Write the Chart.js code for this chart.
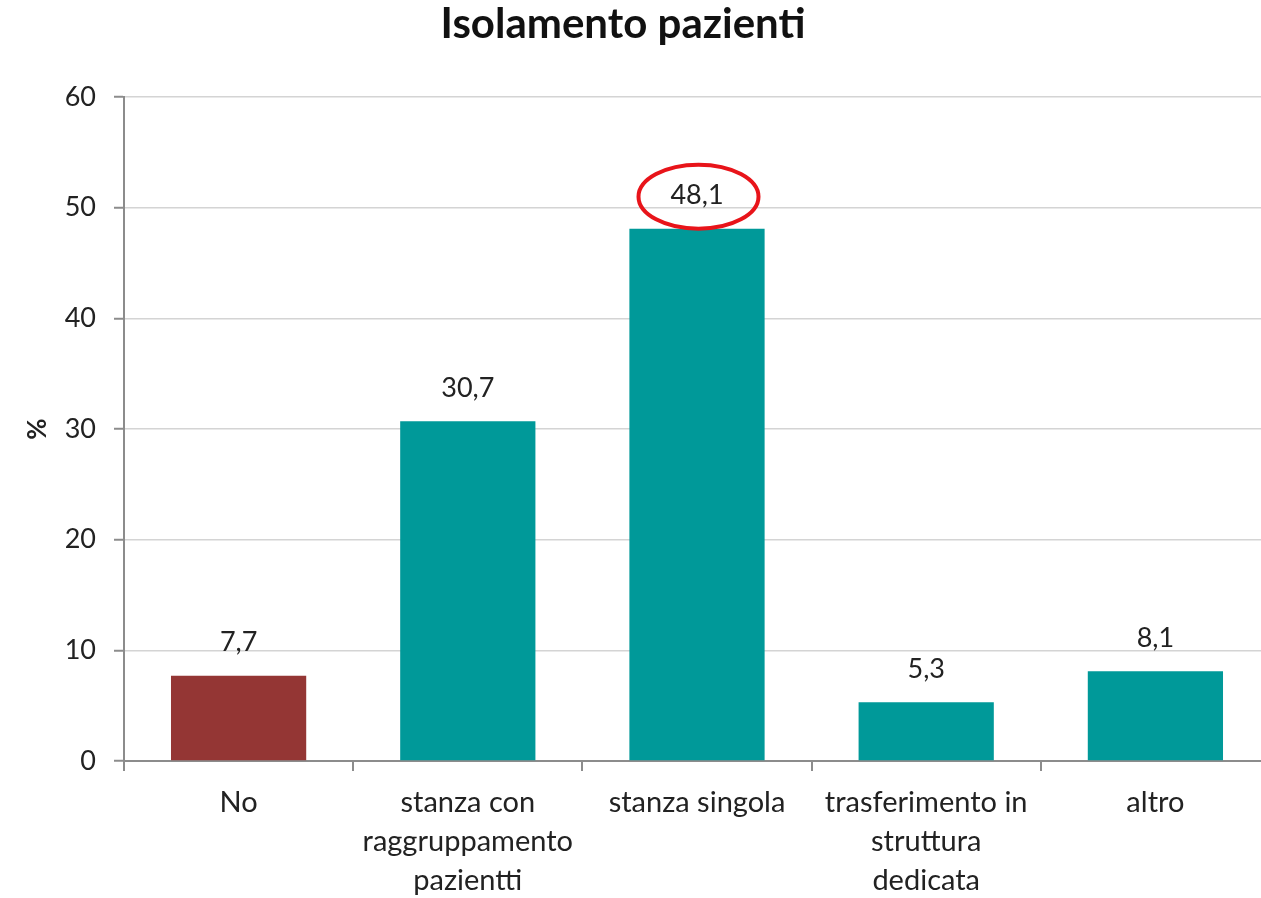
<!DOCTYPE html>
<html><head><meta charset="utf-8">
<script src="https://cdn.jsdelivr.net/npm/chart.js@4/dist/chart.umd.min.js"></script>
<style>html,body{margin:0;padding:0;background:#fff;overflow:hidden}#wrap{width:1272px;height:898px}</style>
</head><body><div id="wrap"><canvas id="c" width="1272" height="898"></canvas></div>
<script>
const chartTitle = "Isolamento pazienti";
const categories = [["No"], ["stanza con","raggruppamento","pazientti"], ["stanza singola"], ["trasferimento in","struttura","dedicata"], ["altro"]];
const values = [7.7, 30.7, 48.1, 5.3, 8.1];
const barColors = ["#943634", "#009999", "#009999", "#009999", "#009999"];
const highlightIndex = 2;
const FONT = "Lato, 'Open Sans', sans-serif";

const labelsPlugin = {
  id: 'valueLabels',
  afterDatasetsDraw(chart) {
    const ctx = chart.ctx;
    const meta = chart.getDatasetMeta(0);
    ctx.save();
    ctx.font = "27px " + FONT;
    ctx.fillStyle = "#222";
    ctx.textAlign = "center";
    ctx.textBaseline = "middle";
    meta.data.forEach((bar, i) => {
      const txt = values[i].toFixed(1).replace('.', ',');
      const y = bar.y - 33;
      ctx.fillText(txt, bar.x, y);
      if (i === highlightIndex) {
        ctx.beginPath();
        ctx.strokeStyle = "#e8141a";
        ctx.lineWidth = 4;
        ctx.ellipse(bar.x + 1.5, y + 1, 60, 32, 0, 0, Math.PI * 2);
        ctx.stroke();
      }
    });
    // title
    ctx.font = "bold 42px " + FONT;
    ctx.fillStyle = "#111";
    ctx.fillText(chartTitle, 623, 24);
    ctx.restore();
  }
};

new Chart(document.getElementById('c'), {
  type: 'bar',
  data: {
    labels: categories,
    datasets: [{ data: values, backgroundColor: barColors, borderWidth: 0, categoryPercentage: 1, barPercentage: 0.59 }]
  },
  options: {
    responsive: false,
    animation: false,
    layout: { padding: { top: 97, right: 2, left: 0, bottom: 0 } },
    plugins: {
      legend: { display: false },
      tooltip: { enabled: false },
      title: { display: false }
    },
    scales: {
      x: {
        grid: { offset: true, drawOnChartArea: false, drawTicks: true, tickLength: 10, color: "#8c8c8c", lineWidth: 2 },
        border: { color: "#8c8c8c", width: 2 },
        ticks: { color: "#222", font: { family: FONT, size: 29, lineHeight: 1.345 }, padding: 12, maxRotation: 0, autoSkip: false },
        afterFit(s) { s.height = 137; }
      },
      y: {
        min: 0, max: 60,
        ticks: { stepSize: 10, color: "#222", font: { family: FONT, size: 27 }, padding: 18 },
        grid: { color: "#d4d4d4", lineWidth: 1.5, tickColor: "#8c8c8c", tickLength: 10, tickWidth: 2 },
        border: { color: "#8c8c8c", width: 2 },
        title: { display: true, text: "%", color: "#222", font: { family: FONT, size: 26, weight: 'bold' }, padding: { top: 22, bottom: 0 } },
        afterFit(s) { s.width = 124; }
      }
    }
  },
  plugins: [labelsPlugin]
});
</script></body></html>
